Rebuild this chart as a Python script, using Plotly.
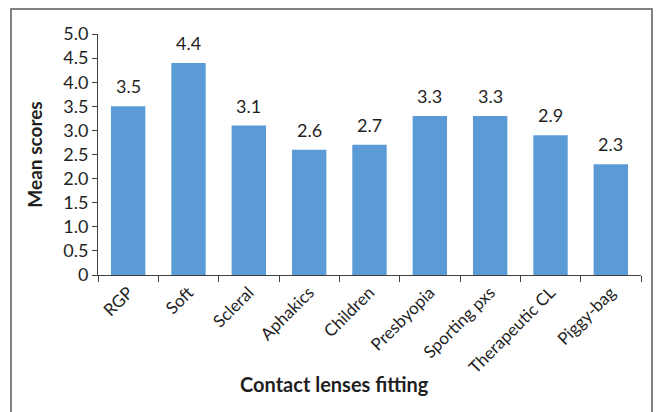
import plotly.graph_objects as go

# Mean scores per contact lens fitting category
categories = ["RGP", "Soft", "Scleral", "Aphakics", "Children", "Presbyopia",
              "Sporting pxs", "Therapeutic CL", "Piggy-bag"]
mean_scores = [3.5, 4.4, 3.1, 2.6, 2.7, 3.3, 3.3, 2.9, 2.3]
y_tick_values = [0, 0.5, 1.0, 1.5, 2.0, 2.5, 3.0, 3.5, 4.0, 4.5, 5.0]
y_tick_labels = ["0", "0.5", "1.0", "1.5", "2.0", "2.5", "3.0", "3.5", "4.0", "4.5", "5.0"]

FONT = "Lato"
TEXT = "#1f1f1f"
AXIS = "#404040"

fig = go.Figure(
    go.Bar(
        x=categories,
        y=mean_scores,
        marker=dict(color="#5B9BD5", line=dict(width=0)),
        hoverinfo="x+y",
    )
)

# value labels sitting a little above each bar
for cat, val in zip(categories, mean_scores):
    fig.add_annotation(
        x=cat, y=val,
        text=f"{val:.1f}",
        xref="x", yref="y",
        yanchor="bottom",
        yshift=7,
        showarrow=False,
        font=dict(family=FONT, size=18, color=TEXT),
    )

fig.update_layout(
    width=660,
    height=412,
    margin=dict(l=98, r=19, t=34, b=137),
    paper_bgcolor="white",
    plot_bgcolor="white",
    bargap=0.43,
    showlegend=False,
    font=dict(family=FONT, color=TEXT),
)

fig.update_xaxes(
    showline=True,
    linecolor=AXIS,
    linewidth=1,
    ticks="outside",
    tickson="boundaries",
    ticklen=6,
    tickcolor=AXIS,
    tickangle=-45,
    tickfont=dict(family=FONT, size=17, color=TEXT),
    showgrid=False,
)

fig.update_yaxes(
    range=[0, 5.0],
    tickvals=y_tick_values,
    ticktext=y_tick_labels,
    showline=True,
    linecolor=AXIS,
    linewidth=1,
    ticks="outside",
    ticklen=5,
    tickcolor=AXIS,
    tickfont=dict(family=FONT, size=18, color=TEXT),
    showgrid=False,
    zeroline=False,
    title=dict(text="<b>Mean scores</b>", font=dict(family=FONT, size=19, color=TEXT), standoff=15),
)

# x-axis title
fig.add_annotation(
    text="<b>Contact lenses fitting</b>",
    xref="paper", yref="paper",
    x=(334 - 98) / 543, y=(275 - 384) / 241,
    xanchor="center", yanchor="middle",
    showarrow=False,
    font=dict(family=FONT, size=20, color=TEXT),
)

# frame around the chart
fig.add_shape(
    type="rect",
    xref="paper", yref="paper",
    x0=(11 - 98) / 543, x1=(652 - 98) / 543,
    y0=-0.7, y1=1 + 25 / 241,
    line=dict(color="#595959", width=1.5),
    fillcolor="rgba(0,0,0,0)",
    layer="below",
)

fig.write_html("out.html")
